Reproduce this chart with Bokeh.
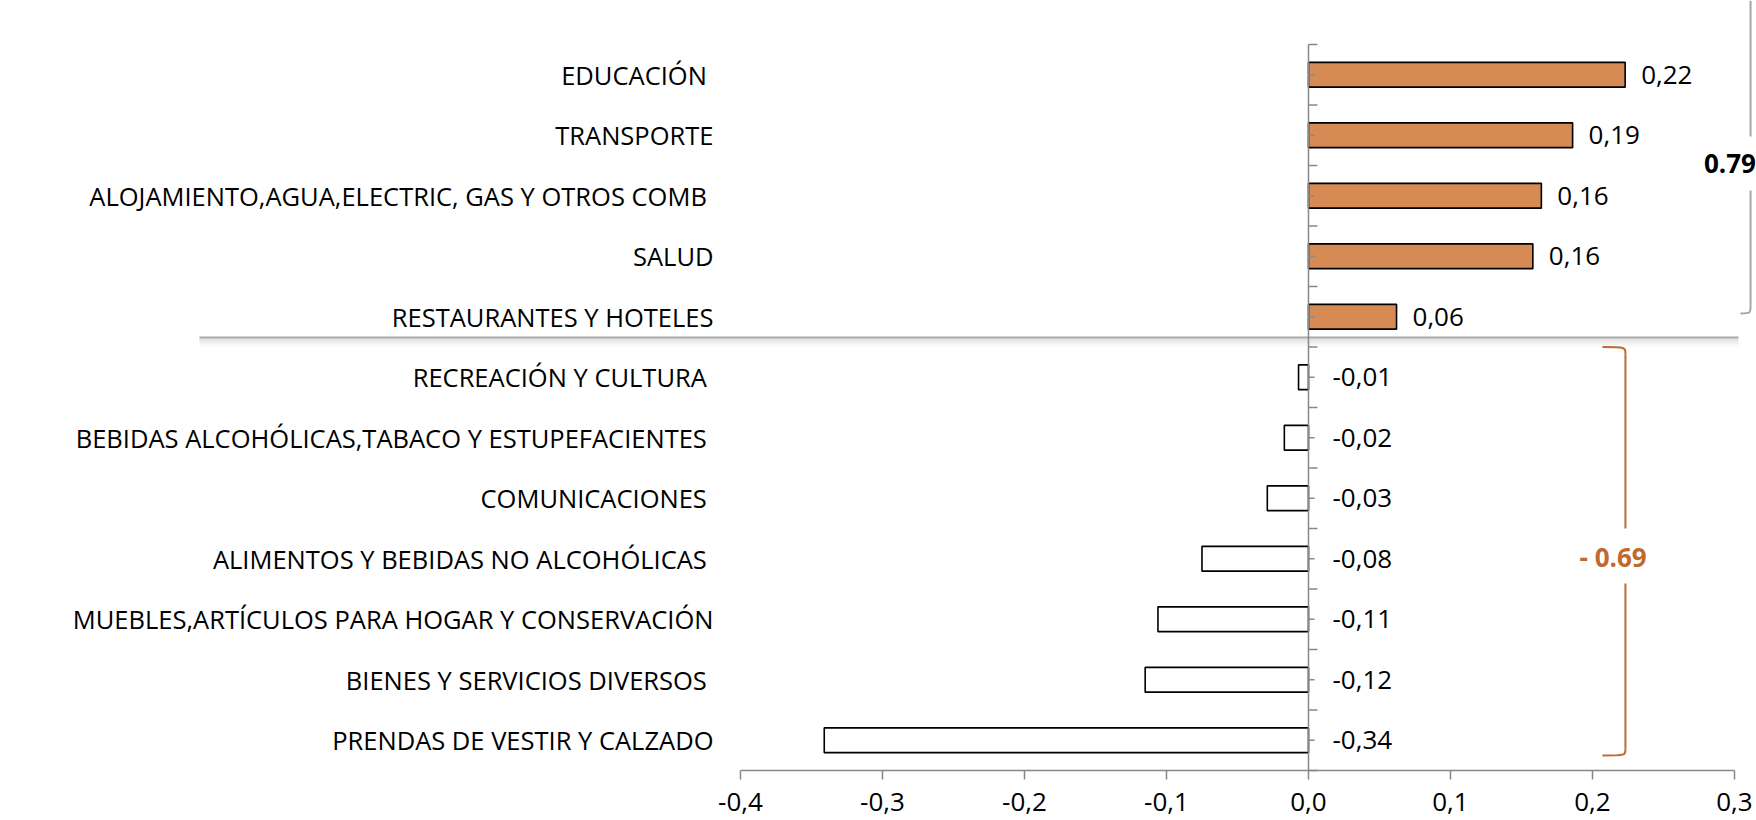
from bokeh.plotting import figure
from bokeh.models import Range1d, FixedTicker
from bokeh.core.properties import value
from bokeh.embed import file_html
from bokeh.resources import INLINE

# ---------------- data ----------------
categories = [
    "EDUCACIÓN ",
    "TRANSPORTE",
    "ALOJAMIENTO,AGUA,ELECTRIC, GAS Y OTROS COMB ",
    "SALUD",
    "RESTAURANTES Y HOTELES",
    "RECREACIÓN Y CULTURA ",
    "BEBIDAS ALCOHÓLICAS,TABACO Y ESTUPEFACIENTES ",
    "COMUNICACIONES ",
    "ALIMENTOS Y BEBIDAS NO ALCOHÓLICAS ",
    "MUEBLES,ARTÍCULOS PARA HOGAR Y CONSERVACIÓN",
    "BIENES Y SERVICIOS DIVERSOS ",
    "PRENDAS DE VESTIR Y CALZADO",
]
values = [0.223, 0.186, 0.164, 0.158, 0.062,
          -0.007, -0.017, -0.029, -0.075, -0.106, -0.115, -0.341]
value_labels = ["0,22", "0,19", "0,16", "0,16", "0,06",
                "-0,01", "-0,02", "-0,03", "-0,08", "-0,11", "-0,12", "-0,34"]
x_ticks = [-0.4, -0.3, -0.2, -0.1, 0.0, 0.1, 0.2, 0.3]
x_tick_labels = ["-0,4", "-0,3", "-0,2", "-0,1", "0,0", "0,1", "0,2", "0,3"]
positive_total = "0.79"
negative_total = "-  0.69"

# ---------------- layout ----------------
W, H = 1756, 820
FONT = "Open Sans"
n = len(categories)
ys = [n - i - 0.5 for i in range(n)]

x_start, x_end = -0.9211, 0.3155
y_start, y_end = -0.8264, 12.727
px_x = W / (x_end - x_start)     # pixels per x unit
px_y = H / (y_end - y_start)     # pixels per y unit

p = figure(width=W, height=H, x_range=Range1d(x_start, x_end),
           y_range=Range1d(y_start, y_end), output_backend="svg",
           toolbar_location=None, y_axis_location=None,
           min_border_left=0, min_border_right=0, min_border_top=0,
           min_border_bottom=0)
p.outline_line_color = None
p.xgrid.visible = False
p.ygrid.visible = False
p.background_fill_color = "white"
p.border_fill_color = "white"

ORANGE = "#D68B55"
AXIS = "#888888"
fills = [ORANGE if v > 0 else "white" for v in values]

# x axis, fixed at y = 0 (bottom of the category rows)
ax = p.xaxis[0]
ax.fixed_location = 0
ax.bounds = (x_ticks[0], x_ticks[-1])
ax.ticker = FixedTicker(ticks=x_ticks)
ax.major_label_overrides = dict(zip(x_ticks, x_tick_labels))
ax.axis_line_color = AXIS
ax.axis_line_width = 1.5
ax.major_tick_line_color = AXIS
ax.major_tick_line_width = 1.5
ax.major_tick_in = 0
ax.major_tick_out = 9
ax.minor_tick_line_color = None
ax.major_label_text_font = FONT
ax.major_label_text_font_size = "26px"
ax.major_label_text_color = "black"
ax.major_label_standoff = 13

# separator line with soft shadow
sep_y = 7.157
for k, a in [(0, 1.0), (2, 0.45), (4, 0.3), (6, 0.18), (8, 0.08)]:
    yy = sep_y - k / px_y
    p.line([-0.781, 0.3028], [yy, yy], line_color="#A6A6A6" if k == 0 else "#BBBBBB",
           line_width=2, line_alpha=a)

# bars
p.hbar(y=ys, left=0, right=values, height=0.41, fill_color=fills,
       line_color="black", line_width=1.6)

# vertical axis at zero with ticks
p.segment(x0=[0], y0=[0], x1=[0], y1=[n], line_color=AXIS, line_width=1.5)
p.segment(x0=[0] * (n + 1), y0=list(range(n + 1)), x1=[9 / px_x] * (n + 1),
          y1=list(range(n + 1)), line_color=AXIS, line_width=1.5)
p.segment(x0=[0] * n, y0=ys, x1=[6 / px_x] * n, y1=ys, line_color=AXIS, line_width=1.5)

# category labels
p.text(x=[x_ticks[0]] * n, y=ys, text=categories, x_offset=-27,
       text_align="right", text_baseline="middle", text_font=value(FONT),
       text_font_size="25.5px", text_color="black")

# value labels
lx = [max(v, 0) for v in values]
offs = [16 if v > 0 else 24 for v in values]
p.text(x=lx, y=ys, text=value_labels, x_offset=offs, text_align="left",
       text_baseline="middle", text_font=value(FONT), text_font_size="26px",
       text_color="black")

# bracket for positive group (gray)
GRAY = "#A6A6A6"
bx = 0.3113
p.line([bx, bx], [y_end, 10.479], line_color=GRAY, line_width=2)
p.line([bx, bx], [9.587, 7.68], line_color=GRAY, line_width=2)
p.bezier(x0=[bx], y0=[7.68], x1=[0.3042], y1=[7.554], cx0=[bx], cy0=[7.554],
         cx1=[bx], cy1=[7.554], line_color=GRAY, line_width=2)
p.text(x=[0.2968], y=[10.033], text=[positive_total], text_align="center",
       text_baseline="middle", text_font=value(FONT), text_font_size="26px",
       text_font_style="bold", text_color="black")

# bracket for negative group (orange)
BR = "#C0692D"
cx = 0.2232
p.bezier(x0=[0.2070], y0=[7.0], x1=[cx], y1=[6.876], cx0=[cx], cy0=[7.0],
         cx1=[cx], cy1=[7.0], line_color=BR, line_width=2)
p.line([cx, cx], [6.876, 4.0], line_color=BR, line_width=2)
p.line([cx, cx], [3.091, 0.364], line_color=BR, line_width=2)
p.bezier(x0=[cx], y0=[0.364], x1=[0.2070], y1=[0.248], cx0=[cx], cy0=[0.248],
         cx1=[cx], cy1=[0.248], line_color=BR, line_width=2)
p.text(x=[0.2169], y=[3.521], text=[negative_total], text_align="center",
       text_baseline="middle", text_font=value(FONT), text_font_size="26px",
       text_font_style="bold", text_color=BR)

open("out.html", "w").write(file_html(p, INLINE))
